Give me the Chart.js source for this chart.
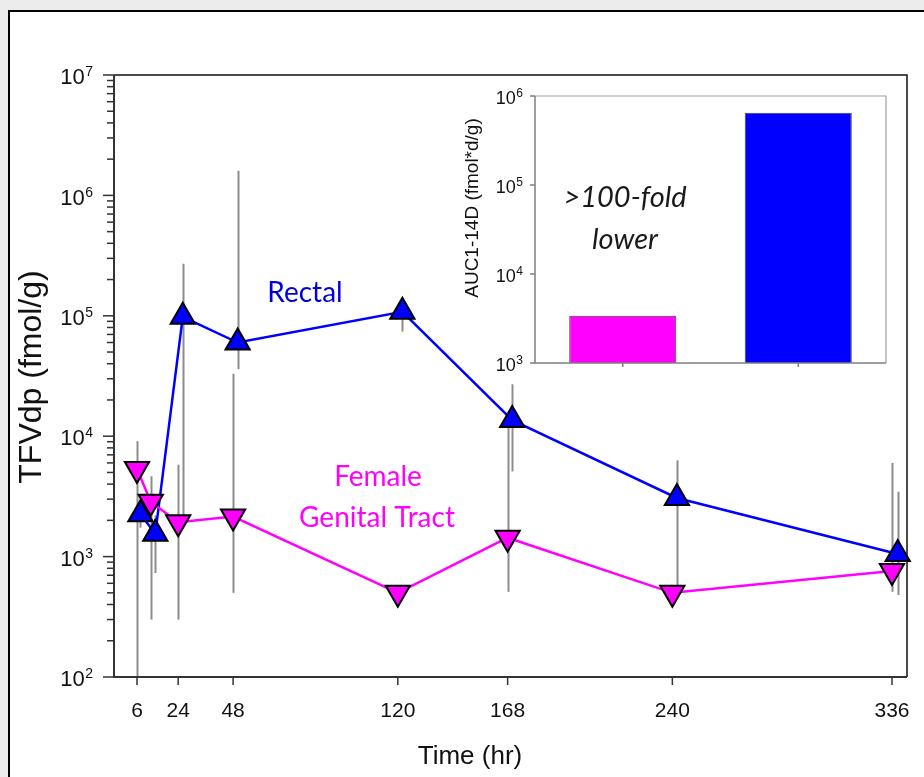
<!DOCTYPE html>
<html>
<head>
<meta charset="utf-8">
<script src="https://cdn.jsdelivr.net/npm/chart.js@4.4.0/dist/chart.umd.min.js"></script>
<style>
  html, body { margin: 0; padding: 0; background: #ececec; }
  #wrap { position: relative; width: 924px; height: 777px; overflow: hidden; }
  #frame { position: absolute; left: 8px; top: 10px; width: 940px; height: 790px; border: 2px solid #000; background: #fff; }
  canvas { position: absolute; }
</style>
</head>
<body>
<div id="wrap">
  <div id="frame"></div>
  <canvas id="mainChart" width="924" height="777" style="left:0;top:0"></canvas>
  <canvas id="insetChart" width="460" height="300" style="left:440px;top:80px"></canvas>
</div>
<script>
// TFVdp concentrations over time (fmol/g)
const rectalHours = [7.5, 14, 26, 50, 122, 170, 242, 338.5];
const rectalConc  = [2250, 1550, 98000, 60000, 108000, 13600, 3070, 1050];
const rectalLow   = [1740, 730, 2000, 36000, 74000, 5100, 560, 480];
const rectalHigh  = [2600, 2200, 270000, 1600000, 130000, 27000, 6300, 3460];

const fgtHours = [6, 12, 24, 48, 120, 168, 240, 336];
const fgtConc  = [5330, 2860, 1930, 2150, 500, 1435, 500, 760];
const fgtLow   = [100, 300, 300, 500, null, 510, null, 510];
const fgtHigh  = [9100, 4650, 5800, 33000, null, 12000, null, 6000];

const timeTicks = [6, 24, 48, 120, 168, 240, 336];
const yDecades = [2, 3, 4, 5, 6, 7];

// inset: AUC day 1-14 (fmol*d/g)
const aucGroups = ['Female Genital Tract', 'Rectal'];
const aucValues = [3400, 650000];
const aucDecades = [3, 4, 5, 6];

const BLUE = '#0000ff';
const PINK = '#ff00ff';

// draws "10" with a raised exponent, right edge at xRight
function drawPow(ctx, exp, xRight, y, size, expSize) {
    ctx.save();
    ctx.fillStyle = '#111';
    ctx.textBaseline = 'alphabetic';
    ctx.textAlign = 'left';
    ctx.font = expSize + 'px "Liberation Sans", Arial, sans-serif';
    const we = ctx.measureText(String(exp)).width;
    ctx.font = size + 'px "Liberation Sans", Arial, sans-serif';
    const wb = ctx.measureText('10').width;
    const x0 = xRight - we - wb - 0.5;
    ctx.fillText('10', x0, y + size * 0.42);
    ctx.font = expSize + 'px "Liberation Sans", Arial, sans-serif';
    ctx.fillText(String(exp), x0 + wb + 0.5, y + size * 0.05);
    ctx.restore();
}

const errorBars = {
    id: 'errorBars',
    beforeDatasetsDraw(chart) {
        const { ctx, scales: { x, y } } = chart;
        const sets = [[rectalHours, rectalLow, rectalHigh], [fgtHours, fgtLow, fgtHigh]];
        ctx.save();
        ctx.beginPath();
        ctx.rect(chart.chartArea.left, chart.chartArea.top, chart.chartArea.width, chart.chartArea.height);
        ctx.clip();
        ctx.strokeStyle = '#8c8c8c';
        ctx.lineWidth = 2;
        sets.forEach(([hrs, lo, hi]) => {
            hrs.forEach((h, i) => {
                if (lo[i] == null) return;
                const px = Math.round(x.getPixelForValue(h)) + 0.5;
                ctx.beginPath();
                ctx.moveTo(px, y.getPixelForValue(lo[i]));
                ctx.lineTo(px, y.getPixelForValue(hi[i]));
                ctx.stroke();
            });
        });
        ctx.restore();
    }
};

const mainAxes = {
    id: 'mainAxes',
    afterDraw(chart) {
        const { ctx, chartArea: a, scales: { x, y } } = chart;
        ctx.save();
        // frame
        ctx.strokeStyle = '#111';
        ctx.lineWidth = 1.5;
        ctx.beginPath();
        ctx.moveTo(a.left, a.top); ctx.lineTo(a.right, a.top); ctx.lineTo(a.right, a.bottom);
        ctx.stroke();
        ctx.strokeStyle = '#333';
        ctx.lineWidth = 2;
        ctx.beginPath();
        ctx.moveTo(a.left, a.top); ctx.lineTo(a.left, a.bottom); ctx.lineTo(a.right, a.bottom);
        ctx.stroke();

        // y ticks, majors and minors
        ctx.lineWidth = 1.5;
        yDecades.forEach(d => {
            const py = y.getPixelForValue(Math.pow(10, d));
            ctx.beginPath();
            ctx.moveTo(a.left - 11, py); ctx.lineTo(a.left, py);
            ctx.stroke();
            drawPow(ctx, d, a.left - 21, py, 22, 14);
            if (d < 7) {
                for (let k = 2; k <= 9; k++) {
                    const pm = y.getPixelForValue(k * Math.pow(10, d));
                    ctx.beginPath();
                    ctx.moveTo(a.left - 7, pm); ctx.lineTo(a.left, pm);
                    ctx.stroke();
                }
            }
        });

        // x ticks
        ctx.fillStyle = '#111';
        ctx.font = '21px "Liberation Sans", Arial, sans-serif';
        ctx.textAlign = 'center';
        ctx.textBaseline = 'middle';
        timeTicks.forEach(t => {
            const px = x.getPixelForValue(t);
            ctx.beginPath();
            ctx.moveTo(px, a.bottom); ctx.lineTo(px, a.bottom + 8);
            ctx.stroke();
            ctx.fillText(String(t), px, a.bottom + 34);
        });

        // axis titles
        ctx.font = '26px "Liberation Sans", Arial, sans-serif';
        ctx.fillText('Time (hr)', 470, 757);
        ctx.save();
        ctx.translate(32, 377);
        ctx.rotate(-Math.PI / 2);
        ctx.font = '32px "Liberation Sans", Arial, sans-serif';
        ctx.fillText('TFVdp (fmol/g)', 0, 0);
        ctx.restore();

        // series labels
        ctx.font = '28px Lato, "Open Sans", sans-serif';
        ctx.fillStyle = '#0000dd';
        ctx.fillText('Rectal', 305, 293);
        ctx.fillStyle = PINK;
        ctx.fillText('Female', 378, 477);
        ctx.fillText('Genital Tract', 377, 518);
        ctx.restore();
    }
};

const mainChart = new Chart(document.getElementById('mainChart').getContext('2d'), {
    type: 'line',
    data: {
        datasets: [{
            label: 'Rectal',
            data: rectalHours.map((h, i) => ({ x: h, y: rectalConc[i] })),
            borderColor: BLUE,
            borderWidth: 2.5,
            pointStyle: 'triangle',
            pointRadius: 14,
            pointBackgroundColor: BLUE,
            pointBorderColor: '#000',
            pointBorderWidth: 2,
            clip: false,
            order: 2
        }, {
            label: 'Female Genital Tract',
            data: fgtHours.map((h, i) => ({ x: h, y: fgtConc[i] })),
            borderColor: PINK,
            borderWidth: 2.5,
            pointStyle: 'triangle',
            pointRotation: 180,
            pointRadius: 14,
            pointBackgroundColor: PINK,
            pointBorderColor: '#000',
            pointBorderWidth: 2,
            clip: false,
            order: 1
        }]
    },
    options: {
        responsive: false,
        animation: false,
        devicePixelRatio: 1,
        layout: { padding: { left: 114, right: 17, top: 75, bottom: 100 } },
        plugins: { legend: { display: false }, tooltip: { enabled: false } },
        scales: {
            x: { type: 'linear', min: -4.05, max: 342.56, display: false },
            y: { type: 'logarithmic', min: 100, max: 1e7, display: false }
        }
    },
    plugins: [errorBars, mainAxes]
});

const insetAxes = {
    id: 'insetAxes',
    beforeDraw(chart) {
        const { ctx, chartArea: a } = chart;
        ctx.save();
        ctx.fillStyle = '#fff';
        ctx.fillRect(a.left, a.top, a.width, a.height);
        ctx.restore();
    },
    afterDraw(chart) {
        const { ctx, chartArea: a, scales: { x, y } } = chart;
        ctx.save();
        ctx.strokeStyle = '#a0a0a0';
        ctx.lineWidth = 1.2;
        ctx.beginPath();
        ctx.moveTo(a.left, a.top); ctx.lineTo(a.right, a.top); ctx.lineTo(a.right, a.bottom);
        ctx.stroke();
        ctx.strokeStyle = '#808080';
        ctx.lineWidth = 1.5;
        ctx.beginPath();
        ctx.moveTo(a.left, a.top); ctx.lineTo(a.left, a.bottom); ctx.lineTo(a.right, a.bottom);
        ctx.stroke();
        aucDecades.forEach(d => {
            const py = y.getPixelForValue(Math.pow(10, d));
            ctx.beginPath();
            ctx.moveTo(a.left - 5, py); ctx.lineTo(a.left, py);
            ctx.stroke();
            drawPow(ctx, d, a.left - 12, py, 18, 12);
        });
        aucGroups.forEach((g, i) => {
            const px = x.getPixelForValue(i);
            ctx.beginPath();
            ctx.moveTo(px, a.bottom); ctx.lineTo(px, a.bottom + 4);
            ctx.stroke();
        });
        ctx.fillStyle = '#111';
        ctx.textAlign = 'center';
        ctx.textBaseline = 'middle';
        ctx.save();
        ctx.translate(33, 128);
        ctx.rotate(-Math.PI / 2);
        ctx.font = '19px "Liberation Sans", Arial, sans-serif';
        ctx.fillText('AUC1-14D (fmol*d/g)', 0, 0);
        ctx.restore();
        ctx.font = 'italic 29px Lato, "Open Sans", sans-serif';
        ctx.fillStyle = '#1a1a1a';
        ctx.fillText('>100-fold', 185, 118);
        ctx.fillText('lower', 185, 160);
        ctx.restore();
    }
};

const insetChart = new Chart(document.getElementById('insetChart').getContext('2d'), {
    type: 'bar',
    data: {
        labels: aucGroups,
        datasets: [{
            data: aucValues,
            base: 1000,
            backgroundColor: [PINK, BLUE],
            borderColor: '#444',
            borderWidth: 1,
            barPercentage: 0.61,
            categoryPercentage: 1
        }]
    },
    options: {
        responsive: false,
        animation: false,
        devicePixelRatio: 1,
        layout: { padding: { left: 95, right: 14, top: 16, bottom: 17 } },
        plugins: { legend: { display: false }, tooltip: { enabled: false } },
        scales: {
            x: { type: 'category', display: false },
            y: { type: 'logarithmic', min: 1000, max: 1e6, display: false }
        }
    },
    plugins: [insetAxes]
});
</script>
</body>
</html>
